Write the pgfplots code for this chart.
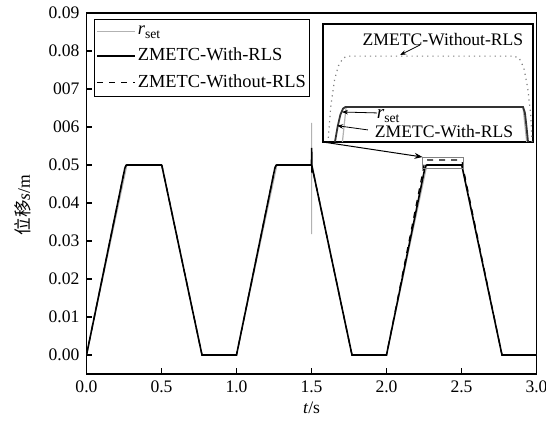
\documentclass[border=0pt]{standalone}
\usepackage{pgfplots}
\pgfplotsset{compat=1.18}
\usepackage{pgfplotstable}
\usepackage{fontspec}
\setmainfont{Liberation Serif}
\newfontfamily\cjk{Noto Sans CJK SC}
\usetikzlibrary{arrows.meta}

\newcommand{\rsetlabel}{\textit{r}\raisebox{-0.45ex}{\fontsize{6.8}{7}\selectfont set}}

% reference displacement (with a measurement spike at t = 1.5 s)
\pgfplotstableread{
t v
0.00 0.0000
0.27 0.0500
0.50 0.0500
0.77 0.0000
1.00 0.0000
1.27 0.0500
1.50 0.0500
1.50 0.0611
1.50 0.0318
1.50 0.0500
1.77 0.0000
2.00 0.0000
2.27 0.0500
2.50 0.0500
2.77 0.0000
3.00 0.0000
}\rset

% ZMETC with RLS
\pgfplotstableread{
t v
0.0000 0.00000
0.2555 0.04911
0.2590 0.04950
0.2625 0.04980
0.2660 0.04996
0.2690 0.05000
0.5000 0.05000
0.5025 0.04985
0.5045 0.04950
0.5065 0.04911
0.7700 0.00000
1.0000 0.00000
1.2555 0.04911
1.2590 0.04950
1.2625 0.04980
1.2660 0.04996
1.2690 0.05000
1.5000 0.05000
1.5010 0.05450
1.5030 0.04800
1.5065 0.04911
1.7700 0.00000
2.0000 0.00000
2.2555 0.04911
2.2590 0.04950
2.2625 0.04980
2.2660 0.04996
2.2690 0.05000
2.5000 0.05000
2.5025 0.04985
2.5045 0.04950
2.5065 0.04911
2.7700 0.00000
3.0000 0.00000
}\withrls

% ZMETC without RLS
\pgfplotstableread{
t v
0.0000 0.00000
0.2555 0.04911
0.2590 0.04950
0.2625 0.04980
0.2660 0.04996
0.2690 0.05000
0.5000 0.05000
0.5025 0.04985
0.5045 0.04950
0.5065 0.04911
0.7700 0.00000
1.0000 0.00000
1.2555 0.04911
1.2590 0.04950
1.2625 0.04980
1.2660 0.04996
1.2690 0.05000
1.5000 0.05000
1.5065 0.04911
1.7700 0.00000
2.0000 0.00000
2.2465 0.04911
2.2500 0.05000
2.2550 0.05070
2.2600 0.05105
2.2660 0.05125
2.2723 0.05130
2.4881 0.05130
2.4950 0.05125
2.5010 0.05100
2.5060 0.05050
2.5100 0.04980
2.5117 0.04911
2.7700 0.00000
3.0000 0.00000
}\withoutrls

\begin{document}
\begin{tikzpicture}[font=\fontsize{8.8}{10.5}\selectfont]
\useasboundingbox (-43.25pt,-23.5pt) rectangle (229.75pt,187pt);
\begin{axis}[
  at={(0,0)}, anchor=south west,
  width=225pt, height=180.5pt, scale only axis,
  xmin=0, xmax=3, ymin=-0.005, ymax=0.09,
  scaled ticks=false,
  xtick={0,0.5,1,1.5,2,2.5,3},
  xticklabels={0.0,0.5,1.0,1.5,2.0,2.5,3.0},
  ytick={0,0.01,0.02,0.03,0.04,0.05,0.06,0.07,0.08,0.09},
  yticklabels={0.00,0.01,0.02,0.03,0.04,0.05,006,007,0.08,0.09},
  tick pos=left, tick align=inside,
  major tick length=3pt,
  every tick/.style={black, line width=0.8pt},
  axis line style={line width=0.9pt},
  tick label style={font=\fontsize{8.8}{10.5}\selectfont},
  xlabel={\textit{t}/s},
  ylabel={{\cjk 位移}\textit{s}/m},
  xlabel style={at={(axis description cs:0.5,-0.094)}, anchor=center},
  ylabel style={at={(axis description cs:-0.141,0.468)}, anchor=center},
  legend style={at={(0.0167,0.983)}, anchor=north west,
    draw=black, line width=0.6pt, inner xsep=1pt, inner ysep=1.8pt,
    font=\fontsize{9.2}{11}\selectfont, cells={anchor=west},
    nodes={inner xsep=0.8pt, inner ysep=1.2pt}, row sep=3pt},
  legend image code/.code={\draw[#1] (0pt,0pt) -- (19pt,0pt);},
]
\addplot[gray!60, line width=0.5pt] table {\rset};
\addlegendentry{\rsetlabel}
\addplot[black, line width=0.8pt] table {\withrls};
\addlegendentry{ZMETC-With-RLS}
\addplot[black, dashed, line width=0.6pt] table {\withoutrls};
\addlegendentry{ZMETC-Without-RLS}

% zoomed region and pointer to the inset
\draw[gray, line width=0.4pt] (axis cs:2.24,0.04911) rectangle (axis cs:2.513,0.05212);
\draw[-{Stealth[length=4pt]}, line width=0.5pt] (axis cs:1.577,0.05605) -- (axis cs:2.24,0.0521);
\end{axis}

% inset: detail of the third plateau
\begin{axis}[
  at={(118.25pt,116pt)}, anchor=south west,
  width=105pt, height=59pt, scale only axis,
  xmin=2.24, xmax=2.513, ymin=0.04911, ymax=0.05212,
  scaled ticks=false, ticks=none,
  axis line style={line width=0.6pt},
  axis background/.style={fill=white},
]
\addplot[gray!60, line width=0.6pt] table {\rset};
\addplot[black!80, line width=0.9pt] table {\withrls};
\addplot[gray, dotted, line width=0.6pt] table {\withoutrls};

\node at (rel axis cs:0.571,0.864) {ZMETC-Without-RLS};
\draw[-{Stealth[length=3pt]}, line width=0.4pt] (rel axis cs:0.462,0.822) -- (rel axis cs:0.367,0.737);
\node at (rel axis cs:0.31,0.22) {\fontsize{9.6}{11}\selectfont\rsetlabel};
\draw[-{Stealth[length=3pt]}, line width=0.4pt] (rel axis cs:0.257,0.246) -- (rel axis cs:0.09,0.254);
\node at (rel axis cs:0.576,0.087) {ZMETC-With-RLS};
\draw[-{Stealth[length=3pt]}, line width=0.4pt] (rel axis cs:0.214,0.102) -- (rel axis cs:0.067,0.138);
\end{axis}
\end{tikzpicture}
\end{document}
